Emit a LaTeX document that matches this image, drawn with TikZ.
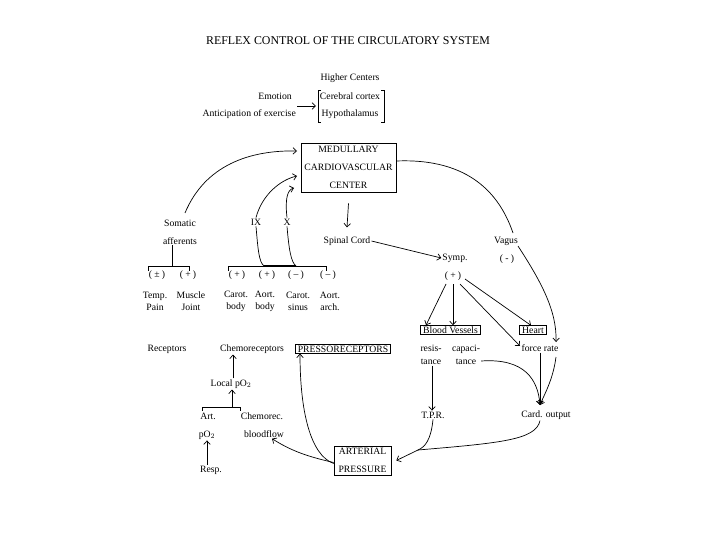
\documentclass[tikz,border=0pt]{standalone}
\usepackage{fontspec}
\setmainfont{Liberation Serif}
\usetikzlibrary{arrows.meta}
\tikzset{
  lbl/.style={inner sep=1pt, font=\fontsize{9.7}{12}\selectfont},
  twoline/.style={lbl, align=center},
  boxed/.style={draw, line width=0.7pt, inner xsep=2.5pt, inner ysep=1pt, font=\fontsize{9.7}{12}\selectfont},
  bigbox/.style={draw, line width=0.7pt, align=center, inner sep=0pt, font=\fontsize{9.7}{18}\selectfont},
  wire/.style={line width=0.7pt},
  arr/.style={wire, -{Straight Barb[length=3.5pt,width=6.5pt]}},
  thickwire/.style={line width=2pt}
}
\newcommand{\sgn}[1]{(\hspace{2.2pt}#1\hspace{2.2pt})}
\begin{document}
\begin{tikzpicture}[x=1pt,y=-1pt]
\useasboundingbox[fill=white] (0,0) rectangle (720,540);

% title
\node[inner sep=1pt, font=\fontsize{11.9}{14}\selectfont] (title) at (348,41) {REFLEX CONTROL OF THE CIRCULATORY SYSTEM};

% higher centers
\node[lbl] (higher) at (350,78) {Higher Centers};
\node[lbl, anchor=east] (emotion) at (293,96) {Emotion};
\node[lbl, anchor=east] (anticip) at (297,114) {Anticipation of exercise};
\node[lbl] (cortex) at (350,96) {Cerebral cortex};
\node[lbl] (hypo) at (350,114) {Hypothalamus};
\coordinate (brLt) at (318,90);
\coordinate (brLb) at (318,122);
\coordinate (brRt) at (384,90);
\coordinate (brRb) at (384,122);
\coordinate (brIn) at (316,106);
\draw[wire] ([xshift=3pt]brLt) -- (brLt) -- (brLb) -- ([xshift=3pt]brLb);
\draw[wire] ([xshift=-3pt]brRt) -- (brRt) -- (brRb) -- ([xshift=-3pt]brRb);
\draw[arr] (anticip.east |- brIn) -- (brIn);

% medullary center
\node[bigbox, minimum width=95pt, minimum height=49pt] (med) at (348.5,167.5) {MEDULLARY\\CARDIOVASCULAR\\CENTER};

% spinal cord
\node[lbl] (spinal) at (347,241) {Spinal Cord};
\draw[arr] ([yshift=-11pt]med.south) -- ([yshift=8pt]spinal.north);
\node[lbl] (symp) at (455,258) {Symp.};
\draw[arr] (spinal.east) -- (symp.west);

% vagus
\node[lbl] (vagus) at (506,241) {Vagus};
\node[lbl] (vminus) at (507,259) {\sgn{-}};
\coordinate (vagTop) at (513,233);
\draw[wire] (med.east |- 0,161) .. controls (470,158) and (500,195) .. (vagTop);

% somatic afferents
\node[twoline, font=\fontsize{9.7}{18}\selectfont] (somatic) at (180,232) {Somatic\\afferents};
\draw[arr] (185,213) .. controls (205,165) and (250,150) .. (297,151);

% IX and X
\node[lbl] (ix) at (256,222) {IX};
\node[lbl] (x) at (287,222) {X};
\coordinate (medIX) at (297,176);
\coordinate (medX) at (294,188);
\draw[arr] (ix.north) .. controls (262,195) and (280,180) .. (medIX);
\draw[arr] (x.north) .. controls (285,200) and (287,190) .. (medX);

% somatic bracket
\coordinate (sbL) at (148,266);
\coordinate (sbR) at (189,266);
\coordinate (sbM) at (172,266);
\draw[wire] ([yshift=-5pt]sbL) -- (sbL) -- (sbR) -- ([yshift=-5pt]sbR);
\draw[wire] (somatic.south -| sbM) -- (sbM);

% chemo / presso bracket
\coordinate (cbL) at (228,266);
\coordinate (cbR) at (326,266);
\coordinate (cbIX) at (264,266);
\coordinate (cbX) at (296,266);
\draw[wire] ([yshift=-5pt]cbL) -- (cbL) -- (cbR) -- ([yshift=-5pt]cbR);
\draw[thickwire] (cbIX) -- (cbX);
\draw[wire] (ix.south) .. controls (258,250) and (259,262) .. (cbIX);
\draw[wire] (x.south) .. controls (289,250) and (291,262) .. (cbX);

% signs
\node[lbl] (s1) at (157,275) {\sgn{±}};
\node[lbl] (s2) at (188,275) {\sgn{+}};
\node[lbl] (s3) at (237,275) {\sgn{+}};
\node[lbl] (s4) at (267,275) {\sgn{+}};
\node[lbl] (s5) at (296,275) {\sgn{–}};
\node[lbl] (s6) at (328,275) {\sgn{–}};

\node[twoline] (r1) at (155,301) {Temp.\\Pain};
\node[twoline] (r2) at (191,301) {Muscle\\Joint};
\node[twoline] (r3) at (236,301) {Carot.\\body};
\node[twoline] (r4) at (265,301) {Aort.\\body};
\node[twoline] (r5) at (298,301) {Carot.\\sinus};
\node[twoline] (r6) at (330,301) {Aort.\\arch.};

% receptors row
\node[lbl] (receptors) at (167,349) {Receptors};
\node[lbl] (chemo) at (252,349) {Chemoreceptors};
\node[boxed] (presso) at (343,349) {PRESSORECEPTORS};

% local pO2 area
\node[lbl] (local) at (231,384) {Local pO$_2$};
\draw[arr] (local.north -| 233,0) -- (chemo.south -| 233,0);
\coordinate (lbL) at (202,407);
\coordinate (lbR) at (240,407);
\coordinate (lbM) at (232,407);
\draw[wire] ([yshift=-4pt]lbL) -- (lbL) -- (lbR) -- ([yshift=-4pt]lbR);
\draw[arr] (lbM) -- (local.south -| lbM);
\node[lbl] (art) at (208,416) {Art.};
\node[lbl] (chemorec) at (262,416) {Chemorec.};
\node[lbl] (po2) at (207,435) {pO$_2$};
\node[lbl] (bloodflow) at (264,434) {bloodflow};
\node[lbl] (resp) at (211,470) {Resp.};
\draw[arr] (resp.north -| 207,0) -- (po2.south -| 207,0);

% sympathetic branch
\node[lbl] (plus) at (453,276) {\sgn{+}};
\node[boxed] (bv) at (450.5,330) {Blood Vessels};
\node[boxed] (heart) at (533,330) {Heart};
\node[twoline, font=\fontsize{9.7}{12.5}\selectfont] (resis) at (431,355) {resis-\\tance};
\node[twoline, font=\fontsize{9.7}{12.5}\selectfont] (capac) at (466,355) {capaci-\\tance};
\node[lbl] (force) at (540,348) {force rate};
\coordinate (forceL) at (520,346);
\draw[arr] (446,284) -- (bv.north -| 426,0);
\draw[arr] (453,284) -- (bv.north -| 453,0);
\draw[arr] (465,279) -- ([xshift=-2pt]heart.north);
\draw[arr] (460,284) -- (forceL);

% vagus to rate
\draw[arr] (518,246) .. controls (540,280) and (557,310) .. (556,342);

% T.P.R. and cardiac output
\node[lbl] (tpr) at (433,415) {T.P.R.};
\node[lbl] (card) at (546,415) {Card. output};
\coordinate (cardIn) at (540,405);
\draw[arr] (resis.south -| 432,0) -- (tpr.north -| 432,0);
\draw[arr] (force.south -| 540,0) -- (cardIn);
\draw[arr] (556,357) .. controls (553,380) and (544,395) .. (cardIn);
\draw[arr] (capac.east |- 0,361) .. controls (525,358) and (538,380) .. (cardIn);

% arterial pressure
\node[bigbox, minimum width=57pt, minimum height=29pt] (artp) at (362.5,460.5) {ARTERIAL\\PRESSURE};
\coordinate (merge) at (418,450);
\draw[arr] (card.south -| 540,0) .. controls (536,440) and (500,443) .. (merge) -- ([xshift=5pt]artp.east);
\draw[wire] (tpr.south -| 433,0) .. controls (431,440) and (425,447) .. (merge);
\draw[arr] ([yshift=-3pt]artp.west) .. controls (310,455) and (300,410) .. (presso.south -| 300,0);
\draw[arr] ([yshift=-2pt]artp.west) .. controls (305,456) and (290,450) .. (bloodflow.south -| 272,0);

\end{tikzpicture}
\end{document}
